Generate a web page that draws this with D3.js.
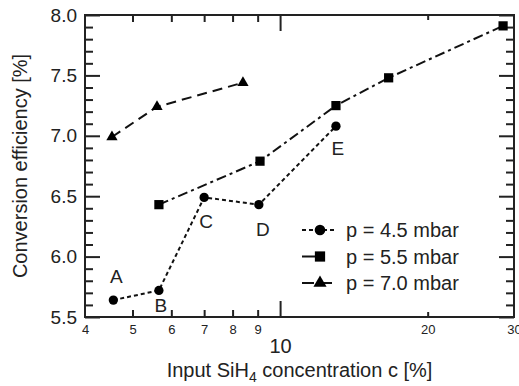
<!DOCTYPE html>
<html>
<head>
<meta charset="utf-8">
<script src="https://cdn.jsdelivr.net/npm/d3@7"></script>
<style>
  body { margin: 0; background: #fff; }
  svg { display: block; font-family: "Liberation Sans", Arial, Helvetica, sans-serif; }
</style>
</head>
<body>
<svg id="chart" width="519" height="386"></svg>
<script>
// ---- data ----
const c45 = [4.57, 5.66, 7.0, 9.05, 13.0];
const eff45 = [5.64, 5.72, 6.49, 6.43, 7.08];
const pointLabels45 = ["A", "B", "C", "D", "E"];

const c55 = [5.66, 9.1, 13.0, 16.65, 28.5];
const eff55 = [6.43, 6.79, 7.25, 7.48, 7.91];

const c70 = [4.54, 5.61, 8.4];
const eff70 = [6.99, 7.24, 7.44];

const seriesNames = ["p = 4.5 mbar", "p = 5.5 mbar", "p = 7.0 mbar"];

const yMajorTicks = [5.5, 6.0, 6.5, 7.0, 7.5, 8.0];
const yMinorTicks = [5.6,5.7,5.8,5.9,6.1,6.2,6.3,6.4,6.6,6.7,6.8,6.9,7.1,7.2,7.3,7.4,7.6,7.7,7.8,7.9];
const xSmallLabelTicks = [4, 5, 6, 7, 8, 9, 20, 30];
const xMinorTicks = [5, 6, 7, 8, 9];
const xMajorTicks = [10];
const xTinyTicks = [20];

const xTitle = "Input SiH";
const xTitleSub = "4";
const xTitleRest = " concentration c [%]";
const yTitle = "Conversion efficiency [%]";

// ---- layout ----
const svg = d3.select("#chart");
const L = 85, R = 514, T = 15, B = 317;

const x = d3.scaleLog().domain([4, 30]).range([L, R]);
const y = d3.scaleLinear().domain([5.5, 8.0]).range([B, T]);

const axisStyle = g => {
  g.select(".domain").remove();
  g.selectAll(".tick line").attr("stroke", "#222").attr("stroke-width", 2);
};

// left axis
svg.append("g").attr("transform", `translate(${L},0)`)
  .call(d3.axisLeft(y).tickValues(yMajorTicks).tickSize(-15).tickPadding(8).tickFormat(d3.format(".1f")))
  .call(axisStyle)
  .call(g => g.selectAll("text").attr("font-size", 19).attr("fill", "#222")
    .attr("font-family", "Liberation Sans, Arial, sans-serif"));
svg.append("g").attr("transform", `translate(${L},0)`)
  .call(d3.axisLeft(y).tickValues(yMinorTicks).tickSize(-8).tickFormat(""))
  .call(axisStyle);

// right axis
svg.append("g").attr("transform", `translate(${R},0)`)
  .call(d3.axisRight(y).tickValues(yMajorTicks).tickSize(-15).tickFormat(""))
  .call(axisStyle);
svg.append("g").attr("transform", `translate(${R},0)`)
  .call(d3.axisRight(y).tickValues(yMinorTicks).tickSize(-8).tickFormat(""))
  .call(axisStyle);

// bottom axis
svg.append("g").attr("transform", `translate(0,${B})`)
  .call(d3.axisBottom(x).tickValues(xMinorTicks).tickSize(-7).tickFormat(""))
  .call(axisStyle);
svg.append("g").attr("transform", `translate(0,${B})`)
  .call(d3.axisBottom(x).tickValues(xMajorTicks).tickSize(-16).tickFormat(""))
  .call(axisStyle);
svg.append("g").attr("transform", `translate(0,${B})`)
  .call(d3.axisBottom(x).tickValues(xTinyTicks).tickSize(-5).tickFormat(""))
  .call(axisStyle);
svg.append("g").attr("transform", `translate(0,${B})`)
  .call(d3.axisBottom(x).tickValues(xSmallLabelTicks).tickSize(0).tickPadding(8).tickFormat(d3.format("d")))
  .call(g => g.select(".domain").remove())
  .call(g => g.selectAll("text").attr("font-size", 13).attr("fill", "#222")
    .attr("font-family", "Liberation Sans, Arial, sans-serif"));
svg.append("g").attr("transform", `translate(0,${B})`)
  .call(d3.axisBottom(x).tickValues(xMajorTicks).tickSize(0).tickPadding(22).tickFormat(d3.format("d")))
  .call(g => g.select(".domain").remove())
  .call(g => g.selectAll("text").attr("font-size", 20).attr("fill", "#222")
    .attr("font-family", "Liberation Sans, Arial, sans-serif"));

// top axis
svg.append("g").attr("transform", `translate(0,${T})`)
  .call(d3.axisTop(x).tickValues(xMinorTicks).tickSize(-7).tickFormat(""))
  .call(axisStyle);
svg.append("g").attr("transform", `translate(0,${T})`)
  .call(d3.axisTop(x).tickValues(xMajorTicks).tickSize(-16).tickFormat(""))
  .call(axisStyle);
svg.append("g").attr("transform", `translate(0,${T})`)
  .call(d3.axisTop(x).tickValues(xTinyTicks).tickSize(-5).tickFormat(""))
  .call(axisStyle);

// frame
svg.append("rect").attr("x", L).attr("y", T).attr("width", R - L).attr("height", B - T)
  .attr("fill", "none").attr("stroke", "#222").attr("stroke-width", 2);

// series
const dash45 = "4,3", dash55 = "10,4,3,4", dash70 = "10,6";
const series = [
  { c: c45, v: eff45, dash: dash45, sym: d3.symbolCircle, size: 68 },
  { c: c55, v: eff55, dash: dash55, sym: d3.symbolSquare, size: 85 },
  { c: c70, v: eff70, dash: dash70, sym: d3.symbolTriangle, size: 55 }
];
const line = d3.line().x(d => x(d[0])).y(d => y(d[1]));

series.forEach(s => {
  const pts = s.c.map((c, i) => [c, s.v[i]]);
  svg.append("path").datum(pts).attr("d", line)
    .attr("fill", "none").attr("stroke", "#111").attr("stroke-width", 2)
    .attr("stroke-dasharray", s.dash);
  svg.selectAll(null).data(pts).enter().append("path")
    .attr("transform", d => `translate(${x(d[0])},${y(d[1])})`)
    .attr("d", d3.symbol().type(s.sym).size(s.size))
    .attr("fill", "#000");
});

// point labels A-E
const labelOffsets = [[3, -17], [2, 22], [2, 31], [4, 31], [2, 29]];
svg.selectAll(null).data(pointLabels45).enter().append("text")
  .attr("x", (d, i) => x(c45[i]) + labelOffsets[i][0])
  .attr("y", (d, i) => y(eff45[i]) + labelOffsets[i][1])
  .attr("text-anchor", "middle").attr("font-size", 19).attr("fill", "#222")
  .text(d => d);

// legend
const legY0 = 230, legStep = 26.5;
series.forEach((s, i) => {
  const yy = legY0 + i * legStep;
  svg.append("line").attr("x1", 302).attr("x2", 337).attr("y1", yy).attr("y2", yy)
    .attr("stroke", "#111").attr("stroke-width", 2)
    .attr("stroke-dasharray", i === 0 ? "4,3" : i === 1 ? "13,40" : "12,6");
  if (i === 1) {
    // keep only the left long dash for the 5.5 mbar key
  }
  svg.append("path").attr("transform", `translate(320,${yy})`)
    .attr("d", d3.symbol().type(s.sym).size(s.size + 20)).attr("fill", "#000");
  svg.append("text").attr("x", 346).attr("y", yy + 7).attr("font-size", 20).attr("fill", "#222")
    .text(seriesNames[i]);
});

// axis titles
const xt = svg.append("text").attr("x", (L + R) / 2).attr("y", 377)
  .attr("text-anchor", "middle").attr("font-size", 20).attr("fill", "#222");
xt.append("tspan").text(xTitle);
xt.append("tspan").attr("font-size", 14).attr("dy", 5).text(xTitleSub);
xt.append("tspan").attr("dy", -5).text(xTitleRest);

svg.append("text").attr("transform", `translate(27,${(T + B) / 2}) rotate(-90)`)
  .attr("text-anchor", "middle").attr("font-size", 20).attr("fill", "#222")
  .text(yTitle);
</script>
</body>
</html>
